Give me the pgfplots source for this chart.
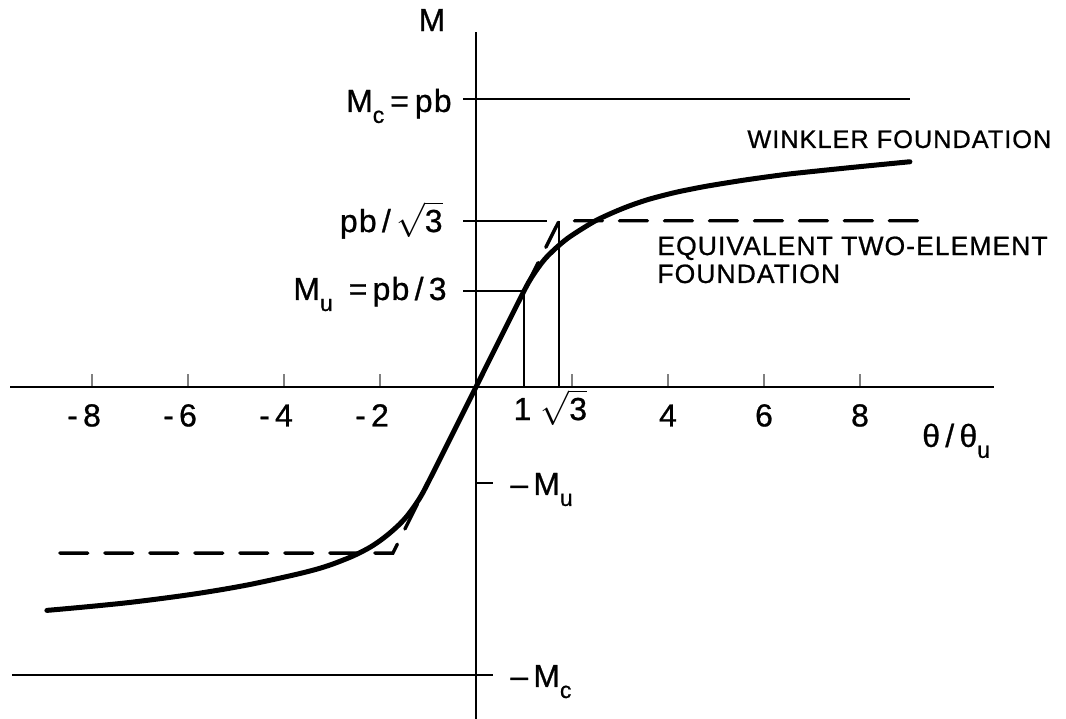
\documentclass[border=0pt]{standalone}
\usepackage{pgfplots}
\pgfplotsset{compat=1.18}
\usepackage{pgfplotstable}
\usepackage{fontspec}
\setmainfont{Liberation Sans}[LetterSpace=4, FakeBold=0.8]

% subscript set low, in the lettering style of the figure
\newcommand{\sub}[1]{\raisebox{-5.5bp}{\fontsize{11.5}{11.5}\selectfont #1}}
\newcommand{\rtthree}{$\sqrt{\hbox{3}}$}
\newcommand{\lblfont}{\fontsize{16}{18}\selectfont}

% moment--rotation curve of a rigid footing on a Winkler foundation
\pgfplotstableread{
theta   M
-8.94  -0.776
-8.40  -0.768
-7.83  -0.759
-7.30  -0.750
-6.80  -0.740
-6.25  -0.728
-5.75  -0.716
-5.20  -0.701
-4.71  -0.686
-4.20  -0.668
-3.67  -0.648
-3.30  -0.632
-3.00  -0.616
-2.63  -0.592
-2.40  -0.574
-2.20  -0.556
-2.00  -0.534
-1.80  -0.508
-1.60  -0.478
-1.45  -0.451
-1.30  -0.418
-1.15  -0.380
-1.00  -0.333
-0.50  -0.167
 0.00   0.000
 0.50   0.167
 1.00   0.333
 1.15   0.378
 1.30   0.415
 1.45   0.447
 1.67   0.483
 1.90   0.515
 2.17   0.545
 2.50   0.578
 2.86   0.606
 3.20   0.629
 3.55   0.649
 3.90   0.665
 4.25   0.679
 4.80   0.697
 5.50   0.716
 6.00   0.728
 6.50   0.739
 7.00   0.748
 7.58   0.758
 8.30   0.770
 9.04   0.782
}\winkler

% equivalent two-element (elastic / perfectly plastic) foundation
\pgfplotstableread{
theta   M
-8.67  -0.577
-1.732 -0.577
 1.732  0.577
 9.30   0.577
}\twoelement

\begin{document}
\begin{tikzpicture}
\begin{axis}[
  scale only axis, width=492bp, height=343.5bp,
  xmin=-9.708, xmax=10.79, ymin=-1.1528, ymax=1.2326,
  axis lines=middle,
  axis line style={-, line width=0.9bp},
  xtick={-8,-6,-4,-2,2,4,6,8},
  xticklabels={\llap{-\,}8,\llap{-\,}6,\llap{-\,}4,\llap{-\,}2,,4,6,8},
  ytick=\empty,
  major tick length=6.5bp,
  xtick style={line width=0.9bp, yshift=3.25bp},
  xticklabel style={font=\lblfont, anchor=base, yshift=-16.5bp, inner sep=0pt},
  clip=false,
  guide/.style={black, line width=0.8bp, no markers},
]
  % reference levels and guide lines
  \addplot[guide] coordinates {(-0.27,1) (9.04,1)};
  \addplot[guide] coordinates {(-0.27,0.577) (1.48,0.577)};
  \addplot[guide] coordinates {(-0.27,0.333) (1,0.333)};
  \addplot[guide] coordinates {(1,0) (1,0.333)};
  \addplot[guide] coordinates {(1.732,0) (1.732,0.577)};
  \addplot[guide] coordinates {(0,-0.333) (0.35,-0.333)};
  \addplot[guide] coordinates {(-9.67,-1) (0.35,-1)};

  % two-element model (dashed) under the Winkler curve (solid)
  \addplot[black, line width=1.7bp, line cap=round,
           dash pattern=on 14bp off 8.5bp, no markers]
    table[x=theta, y=M] {\twoelement};
  \addplot[black, line width=2.5bp, line cap=round, smooth, no markers]
    table[x=theta, y=M] {\winkler};

  % axis and level labels
  \node[font=\lblfont, anchor=center] at (axis cs:-0.917,1.274) {M};
  \node[font=\lblfont, anchor=base east, inner sep=0pt] at (axis cs:-0.5,0.955)
    {M\sub{c}\hspace{3bp}=\hspace{3bp}pb};
  \node[font=\lblfont, anchor=base east, inner sep=0pt] at (axis cs:-0.688,0.538)
    {pb\,/\,\rtthree};
  \node[font=\lblfont, anchor=base east, inner sep=0pt] at (axis cs:-0.604,0.302)
    {M\sub{u}\hspace{8bp}=\,pb\,/\,3};
  \node[font=\lblfont, anchor=base west, inner sep=0pt] at (axis cs:0.708,-0.375)
    {–\,M\sub{u}};
  \node[font=\lblfont, anchor=base west, inner sep=0pt] at (axis cs:0.708,-1.042)
    {–\,M\sub{c}};
  \node[font=\lblfont, anchor=base, inner sep=0pt] at (axis cs:0.97,-0.115) {1};
  \node[font=\lblfont, anchor=base, inner sep=0pt] at (axis cs:1.83,-0.115) {\rtthree};
  \node[font=\lblfont, anchor=base west, inner sep=0pt] at (axis cs:9.29,-0.208)
    {θ\,/\,θ\sub{u}};

  % curve captions
  \node[font=\fontsize{12.7}{14}\selectfont, anchor=base west, inner sep=0pt]
    at (axis cs:5.646,0.830) {WINKLER FOUNDATION};
  \node[font=\fontsize{13.3}{14}\selectfont, anchor=base west, inner sep=0pt]
    at (axis cs:3.771,0.458) {EQUIVALENT TWO-ELEMENT};
  \node[font=\fontsize{13.3}{14}\selectfont, anchor=base west, inner sep=0pt]
    at (axis cs:3.771,0.361) {FOUNDATION};

  \coordinate (bbsw) at (axis cs:-9.917,-1.1528);
  \coordinate (bbne) at (axis cs:12.292,1.34375);
\end{axis}
\pgfresetboundingbox
\path (bbsw) rectangle (bbne);
\end{tikzpicture}
\end{document}
